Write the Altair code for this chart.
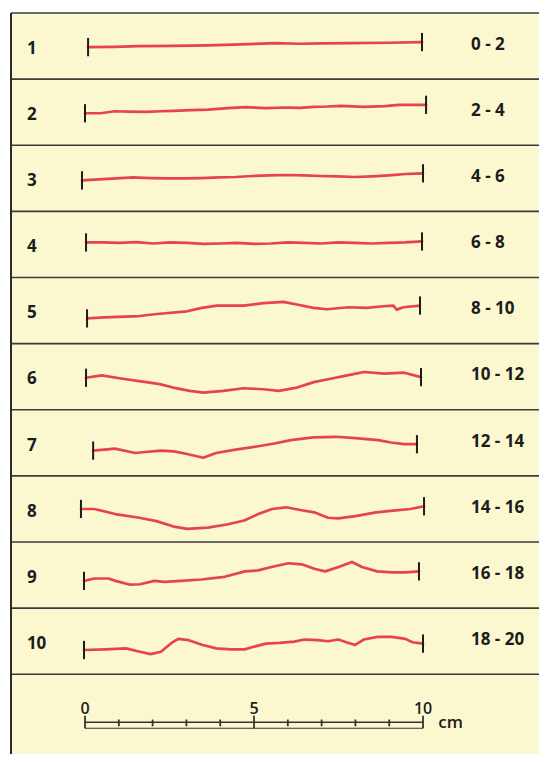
import altair as alt
import pandas as pd

# ---------------- data ----------------
ROW_LABELS = [str(i) for i in range(1, 11)]
JRC_RANGES = ["0 - 2", "2 - 4", "4 - 6", "6 - 8", "8 - 10",
              "10 - 12", "12 - 14", "14 - 16", "16 - 18", "18 - 20"]

# start / end of every profile on the 0-10 cm scale
START_CM = [0.09, 0.00, -0.09, 0.03, 0.06, 0.03, 0.24, -0.12, -0.03, -0.03]
END_CM = [9.97, 10.09, 10.00, 9.97, 9.91, 9.94, 9.82, 10.03, 9.88, 10.00]
# height of the profile start below the top of its row (mm)
BASE_MM = [10.1, 10.1, 10.4, 9.2, 12.1, 10.1, 12.1, 9.8, 11.5, 12.4]

# positions along each profile (cm, 0-10) and heights (mm, up positive)
POS_1 = [0, 0.8, 1.5, 2.5, 3.6, 4.6, 5.6, 6.3, 7, 7.8, 9, 10]
H_1 = [0, 0.1, 0.3, 0.4, 0.5, 0.8, 1.2, 1.0, 1.1, 1.2, 1.3, 1.5]

POS_2 = [0, 0.46, 0.87, 1.3, 1.8, 2.2, 2.6, 3.1, 3.6, 4.2, 4.7, 5.3, 5.9, 6.3, 6.7, 7.1, 7.5, 8.2, 8.8, 9.2, 10]
H_2 = [0, 0, 0.6, 0.5, 0.4, 0.6, 0.7, 0.9, 1.1, 1.5, 1.8, 1.5, 1.7, 1.6, 1.9, 2.0, 2.2, 1.9, 2.1, 2.5, 2.5]

POS_3 = [0, 0.5, 1, 1.5, 2, 2.5, 3, 3.5, 4, 4.5, 5, 5.5, 6, 6.5, 7, 7.5, 8, 8.5, 9, 9.5, 10]
H_3 = [0, 0.3, 0.6, 0.9, 0.7, 0.6, 0.6, 0.7, 0.9, 1.0, 1.3, 1.5, 1.6, 1.5, 1.3, 1.2, 1.0, 1.2, 1.5, 1.9, 2.1]

POS_4 = [0, 0.5, 1, 1.5, 2, 2.5, 3, 3.5, 4, 4.5, 5, 5.5, 6, 6.5, 7, 7.5, 8, 8.5, 9, 9.5, 10]
H_4 = [0, 0, -0.1, 0.1, -0.3, 0, -0.1, -0.4, -0.3, -0.1, -0.4, -0.3, 0, -0.1, -0.3, 0, -0.1, -0.3, -0.1, 0, 0.3]

POS_5 = [0, 0.52, 1.57, 2.1, 3.0, 3.45, 3.9, 4.7, 5.3, 5.9, 6.3, 6.8, 7.2, 7.85, 8.4, 8.9, 9.2, 9.3, 9.5, 10]
H_5 = [0, 0.3, 0.7, 1.3, 2.1, 3.1, 3.8, 3.8, 4.5, 4.9, 4.1, 3.1, 2.7, 3.3, 3.1, 3.6, 3.8, 2.6, 3.3, 3.8]

POS_6 = [0, 0.47, 1.09, 1.8, 2.2, 2.6, 3.1, 3.5, 4.1, 4.7, 5.3, 5.75, 6.3, 6.8, 7.3, 7.8, 8.3, 8.9, 9.5, 10]
H_6 = [0, 0.7, -0.3, -1.3, -1.9, -2.9, -3.9, -4.4, -3.9, -3.1, -3.4, -3.9, -2.9, -1.3, -0.3, 0.7, 1.7, 1.2, 1.5, 0.2]

POS_7 = [0, 0.35, 0.67, 1.3, 1.6, 2.1, 2.5, 2.9, 3.4, 3.8, 4.4, 5.1, 5.6, 6.1, 6.8, 7.5, 8.1, 8.8, 9.2, 9.6, 10]
H_7 = [0, 0.3, 0.6, -0.7, -0.4, 0, -0.2, -1.0, -2.1, -0.7, 0.3, 1.3, 2.1, 3.1, 3.9, 4.1, 3.7, 3.1, 2.4, 1.9, 1.9]

POS_8 = [0, 0.39, 1.0, 1.7, 2.2, 2.7, 3.1, 3.7, 4.25, 4.76, 5.17, 5.57, 5.98, 6.39, 6.8, 7.2, 7.5, 8.0, 8.6, 9.1, 9.6, 10]
H_8 = [0, 0, -1.5, -2.6, -3.6, -5.2, -5.9, -5.5, -4.6, -3.4, -1.5, 0, 0.5, -0.3, -1.0, -2.6, -2.8, -2.1, -1.0, -0.5, 0, 0.8]

POS_9 = [0, 0.31, 0.73, 0.94, 1.35, 1.67, 2.1, 2.4, 2.9, 3.5, 4.2, 4.8, 5.2, 5.6, 6.1, 6.5, 6.9, 7.2, 7.6, 8.0, 8.3, 8.75, 9.2, 9.6, 10]
H_9 = [0, 0.7, 0.7, 0, -1.1, -1.0, 0, -0.3, 0, 0.4, 1.2, 2.8, 3.1, 4.1, 5.2, 4.9, 3.5, 2.8, 4.1, 5.6, 4.1, 2.8, 2.5, 2.5, 2.8]

POS_10 = [0, 0.62, 1.24, 1.65, 1.96, 2.27, 2.58, 2.78, 3.09, 3.5, 3.9, 4.33, 4.74, 4.95, 5.36, 5.77, 6.2, 6.5, 6.9, 7.2, 7.5, 7.8, 8.0, 8.25, 8.66, 9.07, 9.48, 9.69, 10]
H_10 = [0, 0.2, 0.5, -0.5, -1.2, -0.5, 2.1, 3.3, 2.9, 1.5, 0.5, 0.2, 0.2, 0.8, 1.9, 2.1, 2.5, 3.1, 2.9, 2.6, 3.1, 2.1, 1.5, 3.1, 3.9, 3.9, 3.3, 2.3, 1.9]

POSITIONS = [POS_1, POS_2, POS_3, POS_4, POS_5, POS_6, POS_7, POS_8, POS_9, POS_10]
HEIGHTS = [H_1, H_2, H_3, H_4, H_5, H_6, H_7, H_8, H_9, H_10]

SCALE_TICKS_CM = list(range(0, 11))
SCALE_LABELS = ["0", "5", "10"]
SCALE_UNIT = "cm"

# ---------------- layout constants ----------------
ROW_H = 19.56          # mm, height of one row
N_ROWS = 10
PLOT_W = 528
X_MIN = -2.19                 # cm
X_MAX = X_MIN + PLOT_W / 33.8
Y_MAX = 219.2                 # mm
TICK_HALF = 2.7               # mm
ROWNUM_X = -1.72
RANGE_X = 11.42
ROWNUM_DY = 10.6
RANGE_DY = 9.4
BAR_Y = 209.8
BAR_Y_LOW = 211.6
BAR_LABEL_Y = 206.0

FONT = "Open Sans"
RED = "#E6434F"
INK = "#1c1c1c"

# ---------------- build tables ----------------
prof_rows, tick_rows = [], []
for r in range(N_ROWS):
    s, e = START_CM[r], END_CM[r]
    top = r * ROW_H + BASE_MM[r]
    pts = []
    for p, h in zip(POSITIONS[r], HEIGHTS[r]):
        pts.append({"row": ROW_LABELS[r], "x": s + p / 10.0 * (e - s), "y": top - h})
    prof_rows.extend(pts)
    for pt in (pts[0], pts[-1]):
        tick_rows.append({"x": pt["x"], "y": pt["y"] - TICK_HALF, "y2": pt["y"] + TICK_HALF})

profiles = pd.DataFrame(prof_rows)
ends = pd.DataFrame(tick_rows)
dividers = pd.DataFrame({"y": [k * ROW_H for k in range(N_ROWS + 1)]})
border = pd.DataFrame({"x": [X_MIN]})
rownums = pd.DataFrame({"label": ROW_LABELS,
                        "x": [ROWNUM_X] * N_ROWS,
                        "y": [r * ROW_H + ROWNUM_DY for r in range(N_ROWS)]})
ranges = pd.DataFrame({"label": JRC_RANGES,
                       "x": [RANGE_X] * N_ROWS,
                       "y": [r * ROW_H + RANGE_DY for r in range(N_ROWS)]})
bar = pd.DataFrame({"x": [0, 0], "x2": [10, 10], "y": [BAR_Y, BAR_Y_LOW], "w": [1.6, 1.1]})
bar_ticks = pd.DataFrame({
    "x": SCALE_TICKS_CM,
    "y": [BAR_Y - (1.9 if t % 5 == 0 else 0.8) for t in SCALE_TICKS_CM],
    "y2": [BAR_Y_LOW if t % 5 == 0 else BAR_Y + 1.2 for t in SCALE_TICKS_CM],
})
bar_labels = pd.DataFrame({"label": SCALE_LABELS, "x": [0, 5, 10], "y": [BAR_LABEL_Y] * 3})
unit = pd.DataFrame({"label": [SCALE_UNIT], "x": [10.45], "y": [BAR_Y + 0.2]})

xs = alt.Scale(domain=[X_MIN, X_MAX], nice=False, zero=False)
ys = alt.Scale(domain=[0, Y_MAX], reverse=True, nice=False, zero=False)
X = alt.X("x:Q", scale=xs, axis=None)
Y = alt.Y("y:Q", scale=ys, axis=None)

l_div = alt.Chart(dividers).mark_rule(color="#3b3b3b", strokeWidth=1.6).encode(y=Y)
l_border = alt.Chart(border).mark_rule(color="#2b2b2b", strokeWidth=2).encode(x=X)
l_prof = alt.Chart(profiles).mark_line(color=RED, strokeWidth=2.7, strokeJoin="round",
                                       strokeCap="round").encode(
    x=X, y=Y, detail="row:N")
l_ends = alt.Chart(ends).mark_rule(color=INK, strokeWidth=2).encode(x=X, y=Y, y2="y2:Q")
l_rownum = alt.Chart(rownums).mark_text(align="left", baseline="middle", font=FONT,
                                        fontWeight="bold", fontSize=17, color=INK).encode(
    x=X, y=Y, text="label:N")
l_range = alt.Chart(ranges).mark_text(align="left", baseline="middle", font=FONT,
                                      fontWeight="bold", fontSize=17, color=INK).encode(
    x=X, y=Y, text="label:N")
l_bar = alt.Chart(bar).mark_rule(color="#333333").encode(
    x=X, x2="x2:Q", y=Y, strokeWidth=alt.StrokeWidth("w:Q", scale=None, legend=None))
l_bar_ticks = alt.Chart(bar_ticks).mark_rule(color="#333333", strokeWidth=1.8).encode(
    x=X, y=Y, y2="y2:Q")
l_bar_labels = alt.Chart(bar_labels).mark_text(align="center", baseline="middle", font=FONT,
                                               fontWeight=600, fontSize=16, color=INK).encode(
    x=X, y=Y, text="label:N")
l_unit = alt.Chart(unit).mark_text(align="left", baseline="middle", font=FONT,
                                   fontWeight=600, fontSize=17, color=INK).encode(
    x=X, y=Y, text="label:N")

chart = alt.layer(
    l_div, l_border, l_prof, l_ends, l_rownum, l_range,
    l_bar, l_bar_ticks, l_bar_labels, l_unit,
).properties(
    width=PLOT_W, height=741,
    padding={"left": 3, "top": 5, "right": 0, "bottom": 0},
    autosize=alt.AutoSizeParams(type="none"),
    background="white",
).configure_view(fill="#FBF8D0", stroke=None)

chart.save("out.html", embed_options={"renderer": "svg", "actions": False})
